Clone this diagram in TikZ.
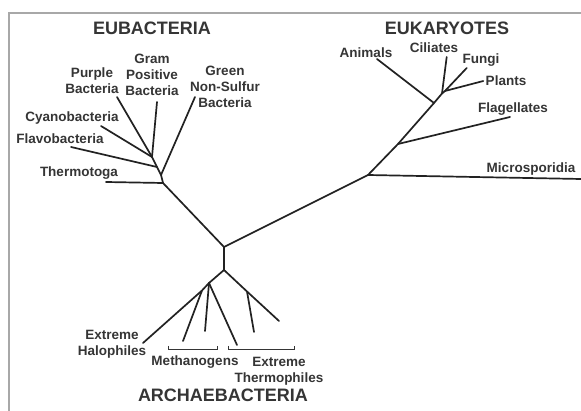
\documentclass[tikz,border=0pt]{standalone}
\usepackage{fontspec}
\setmainfont{Liberation Sans}
\definecolor{linecol}{HTML}{222222}
\definecolor{textcol}{HTML}{353535}
\definecolor{framecol}{HTML}{A8A8A8}
\begin{document}
\begin{tikzpicture}[x=1pt,y=-1pt,
  branch/.style={draw=linecol, line width=1.7pt, line cap=round, line join=round},
  lbl/.style={font=\fontsize{13.5}{16}\selectfont\bfseries, text=textcol, inner sep=0pt, align=center},
  ttl/.style={font=\fontsize{18}{20}\selectfont\bfseries, text=textcol, inner sep=0pt},
  brk/.style={draw=textcol, line width=1pt}]
\useasboundingbox (0,0) rectangle (581,411);
\fill[white] (0,0) rectangle (581,411);
\draw[framecol, line width=1.3pt] (581,13) -- (9,13) -- (9,411);

% root
\coordinate (r1) at (224,247);
\coordinate (r2) at (224,270);
% eubacteria
\coordinate (eD) at (163,183);
\coordinate (eC) at (161,175);
\coordinate (eB) at (157,167);
\coordinate (eA) at (152,157);
\coordinate (purple) at (117,97);
\coordinate (gram) at (157,102);
\coordinate (cyano) at (101,126);
\coordinate (flavo) at (71,147);
\coordinate (green) at (195,97);
\coordinate (thermo) at (106,182);
% eukaryotes
\coordinate (kL) at (368,175);
\coordinate (kK) at (398,144);
\coordinate (kH) at (434,103);
\coordinate (kI) at (442,93.5);
\coordinate (kJ) at (445,91);
\coordinate (animals) at (377,59);
\coordinate (ciliates) at (446.7,57);
\coordinate (fungi) at (466.7,68);
\coordinate (plants) at (483.3,81);
\coordinate (flag) at (510,117);
\coordinate (micro) at (581,179);
% archaebacteria
\coordinate (aF) at (209,283);
\coordinate (aG) at (202,290.5);
\coordinate (aE) at (247,291.5);
\coordinate (halo) at (143,343);
\coordinate (m1) at (183,341);
\coordinate (m2) at (205,331);
\coordinate (m3) at (237,345);
\coordinate (t1) at (279,321);
\coordinate (t2) at (254,332);

% branches
\draw[branch] (r1) -- (r2);
\draw[branch] (r1) -- (eD);
\draw[branch] (r1) -- (kL);
\draw[branch] (eD) -- (eC) -- (eB) -- (eA);
\draw[branch] (eA) -- (purple);
\draw[branch] (eA) -- (gram);
\draw[branch] (eA) -- (cyano);
\draw[branch] (eB) -- (flavo);
\draw[branch] (eC) -- (green);
\draw[branch] (eD) -- (thermo);
\draw[branch] (kL) -- (kK) -- (kH) -- (kI) -- (kJ);
\draw[branch] (kH) -- (animals);
\draw[branch] (kI) -- (ciliates);
\draw[branch] (kJ) -- (fungi);
\draw[branch] (kJ) -- (plants);
\draw[branch] (kK) -- (flag);
\draw[branch] (kL) -- (micro);
\draw[branch] (r2) -- (aF);
\draw[branch] (r2) -- (aE) -- (t1);
\draw[branch] (aE) -- (t2);
\draw[branch] (aF) -- (aG) -- (halo);
\draw[branch] (aG) -- (m1);
\draw[branch] (aF) -- (m2);
\draw[branch] (aF) -- (m3);

% brackets
\coordinate (bm1) at (168,346);
\coordinate (bm2) at (217,346);
\coordinate (bt1) at (228,346);
\coordinate (bt2) at (294,346);
\draw[brk] (bm1) -- ++(0,3.5) -| (bm2);
\draw[brk] (bt1) -- ++(0,3.5) -| (bt2);

% titles
\node[ttl, anchor=base] (teu) at (152,34.5) {EUBACTERIA};
\node[ttl, anchor=base] (tek) at (447,34.5) {EUKARYOTES};
\node[ttl, anchor=base] (tar) at (223,402) {ARCHAEBACTERIA};

% labels
\node[lbl] (lgram) at (152,75) {Gram\\Positive\\Bacteria};
\node[lbl] (lpur) at (92,81) {Purple\\Bacteria};
\node[lbl] (lgreen) at (225,87) {Green\\Non-Sulfur\\Bacteria};
\node[lbl, anchor=base] (lcy) at (72,121.5) {Cyanobacteria};
\node[lbl, anchor=base] (lfl) at (60,143.5) {Flavobacteria};
\node[lbl, anchor=base] (lth) at (79,176.5) {Thermotoga};
\node[lbl, anchor=base] (lan) at (366,57.5) {Animals};
\node[lbl, anchor=base] (lci) at (434,52.5) {Ciliates};
\node[lbl, anchor=base] (lfu) at (481,63.5) {Fungi};
\node[lbl, anchor=base] (lpl) at (506,85.5) {Plants};
\node[lbl, anchor=base] (lfg) at (513,112.5) {Flagellates};
\node[lbl, anchor=base] (lmi) at (531,172.5) {Microsporidia};
\node[lbl] (lha) at (112,344.5) {Extreme\\Halophiles};
\node[lbl, anchor=base] (lme) at (195,365.5) {Methanogens};
\node[lbl] (lxt) at (279,371.5) {Extreme\\Thermophiles};
\end{tikzpicture}
\end{document}
